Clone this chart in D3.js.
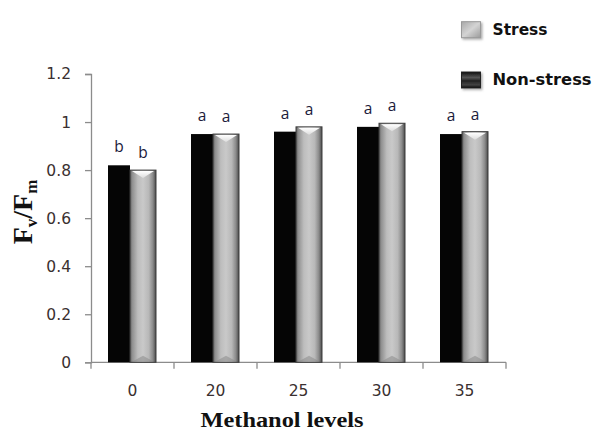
<!DOCTYPE html>
<html>
<head>
<meta charset="utf-8">
<script src="https://cdn.jsdelivr.net/npm/d3@7"></script>
<style>
  html, body { margin: 0; padding: 0; background: #fff; }
  svg { display: block; }
</style>
</head>
<body>
<svg id="chart" width="595" height="432"></svg>
<script>
// ---- data ----
const categories = ["0", "20", "25", "30", "35"];
const seriesNames = ["Non-stress", "Stress"];
const nonStress = [0.82, 0.95, 0.96, 0.98, 0.95];
const stress = [0.80, 0.95, 0.98, 0.995, 0.96];
const nonStressLetters = ["b", "a", "a", "a", "a"];
const stressLetters = ["b", "a", "a", "a", "a"];
const yTicks = [0, 0.2, 0.4, 0.6, 0.8, 1, 1.2];
const yTickLabels = ["0", "0.2", "0.4", "0.6", "0.8", "1", "1.2"];

const svg = d3.select("#chart");
const defs = svg.append("defs");

// gradients
const gBar = defs.append("linearGradient").attr("id", "grayBar").attr("x1", "0").attr("x2", "1").attr("y1", "0").attr("y2", "0");
[[0, "#5a5a5a"], [0.08, "#8e8e8e"], [0.3, "#bdbdbd"], [0.5, "#c9c9c9"], [0.72, "#b8b8b8"], [0.88, "#8a8a8a"], [1, "#4a4a4a"]]
  .forEach(([o, c]) => gBar.append("stop").attr("offset", o).attr("stop-color", c));
const gCap = defs.append("linearGradient").attr("id", "capGrad").attr("x1", "0").attr("x2", "0").attr("y1", "0").attr("y2", "1");
[[0, "#ffffff"], [1, "#dcdcdc"]].forEach(([o, c]) => gCap.append("stop").attr("offset", o).attr("stop-color", c));
const gLegS = defs.append("linearGradient").attr("id", "legStress").attr("x1", "0").attr("x2", "1").attr("y1", "0").attr("y2", "1");
[[0, "#a8a8a8"], [0.5, "#d4d4d4"], [1, "#9a9a9a"]].forEach(([o, c]) => gLegS.append("stop").attr("offset", o).attr("stop-color", c));
const gLegN = defs.append("linearGradient").attr("id", "legNon").attr("x1", "0").attr("x2", "0").attr("y1", "0").attr("y2", "1");
[[0, "#111"], [0.35, "#555"], [0.55, "#222"], [0.8, "#444"], [1, "#0a0a0a"]].forEach(([o, c]) => gLegN.append("stop").attr("offset", o).attr("stop-color", c));
const shadow = defs.append("filter").attr("id", "shadow").attr("x", "-30%").attr("y", "-30%").attr("width", "160%").attr("height", "160%");
shadow.append("feDropShadow").attr("dx", 1.5).attr("dy", 1.5).attr("stdDeviation", 1).attr("flood-color", "#888").attr("flood-opacity", 0.7);

// ---- scales ----
const x = d3.scaleBand().domain(categories).range([91, 506]).paddingInner(0).paddingOuter(0);
const xSub = d3.scaleBand().domain(seriesNames).range([-24.5, 23.5]);
const y = d3.scaleLinear().domain([0, 1.2]).range([362.3, 74]);

// ---- axes ----
const axisColor = "#8c8c8c";
const yAxis = svg.append("g").attr("transform", "translate(91,0)")
  .call(d3.axisLeft(y).tickValues(yTicks).tickFormat((d, i) => yTickLabels[i]).tickSizeOuter(0).tickSize(6).tickPadding(14));
yAxis.selectAll("path, line").attr("stroke", axisColor).attr("stroke-width", 1.3);
yAxis.selectAll("text").attr("font-family", "DejaVu Sans").attr("font-size", 15.5).attr("fill", "#3a3030");

// x axis: ticks at band boundaries
const xAxis = svg.append("g").attr("transform", "translate(0,362.3)");
xAxis.append("line").attr("x1", x.range()[0]).attr("x2", x.range()[1]).attr("stroke", axisColor).attr("stroke-width", 1.3);
const bounds = categories.map(c => x(c)).concat([x(categories[categories.length - 1]) + x.bandwidth()]);
xAxis.selectAll("line.tick").data(bounds).join("line").attr("class", "tick")
  .attr("x1", d => d).attr("x2", d => d).attr("y1", 0).attr("y2", 6.5)
  .attr("stroke", axisColor).attr("stroke-width", 1.3);
xAxis.selectAll("text").data(categories).join("text")
  .attr("x", d => x(d) + x.bandwidth() / 2).attr("y", 23).attr("dy", "0.71em")
  .attr("text-anchor", "middle").attr("font-family", "DejaVu Sans").attr("font-size", 15.5).attr("fill", "#3a3030")
  .text(d => d);

// ---- bars ----
const rows = categories.map((c, i) => ({ c, non: nonStress[i], st: stress[i], nl: nonStressLetters[i], sl: stressLetters[i] }));
const groups = svg.append("g").selectAll("g").data(rows).join("g")
  .attr("transform", d => `translate(${x(d.c) + x.bandwidth() / 2},0)`);

// non-stress (black)
groups.append("rect")
  .attr("x", xSub("Non-stress")).attr("width", xSub.bandwidth() - 2)
  .attr("y", d => y(d.non)).attr("height", d => y(0) - y(d.non))
  .attr("fill", "#050505");

// stress (gray cylinder-like)
const sx = xSub("Stress") - 2, sw = xSub.bandwidth() + 2;
groups.append("rect")
  .attr("x", sx).attr("width", sw)
  .attr("y", d => y(d.st)).attr("height", d => y(0) - y(d.st))
  .attr("fill", "url(#grayBar)").attr("stroke", "#3c3c3c").attr("stroke-width", 1);
// top bevel chevron
groups.append("path")
  .attr("d", d => {
    const t = y(d.st) + 1;
    return `M${sx + 2},${t} L${sx + sw - 2},${t} L${sx + sw / 2},${t + 7} Z`;
  })
  .attr("fill", "url(#capGrad)");
// bottom bevel
groups.append("path")
  .attr("d", d => {
    const b = y(0) - 0.5;
    return `M${sx + 2},${b} L${sx + sw - 2},${b} L${sx + sw / 2},${b - 6} Z`;
  })
  .attr("fill", "#8a8a8a").attr("opacity", 0.55);

// letters
const letterFont = "Open Sans";
groups.append("text")
  .attr("x", xSub("Non-stress") + (xSub.bandwidth() - 2) / 2).attr("y", d => y(d.non) - 13)
  .attr("text-anchor", "middle").attr("font-family", letterFont).attr("font-size", 15.5).attr("fill", "#1a1a3a")
  .text(d => d.nl);
groups.append("text")
  .attr("x", sx + sw / 2).attr("y", d => y(d.st) - 12)
  .attr("text-anchor", "middle").attr("font-family", letterFont).attr("font-size", 15.5).attr("fill", "#1a1a3a")
  .text(d => d.sl);

// ---- legend ----
const legend = svg.append("g");
const legendItems = [
  { name: "Stress", fill: "url(#legStress)", stroke: "#9a9a9a", y: 21.7, width: 55 },
  { name: "Non-stress", fill: "url(#legNon)", stroke: "#222", y: 72, width: 99 }
];
const li = legend.selectAll("g").data(legendItems).join("g").attr("transform", d => `translate(461.5,${d.y})`);
li.append("rect").attr("width", 19).attr("height", 16).attr("fill", d => d.fill).attr("stroke", d => d.stroke).attr("filter", "url(#shadow)");
li.append("text").attr("x", 31).attr("y", 13).attr("font-family", "DejaVu Sans").attr("font-weight", "bold")
  .attr("font-size", 16.5).attr("fill", "#111")
  .attr("textLength", d => d.width).attr("lengthAdjust", "spacingAndGlyphs")
  .text(d => d.name);

// ---- titles ----
svg.append("text")
  .attr("x", 282).attr("y", 427)
  .attr("text-anchor", "middle").attr("font-family", "Liberation Serif").attr("font-weight", "bold")
  .attr("font-size", 21.5).attr("fill", "#111")
  .attr("textLength", 163).attr("lengthAdjust", "spacingAndGlyphs")
  .text("Methanol levels");

const yt = svg.append("text")
  .attr("transform", "translate(32,212) rotate(-90)")
  .attr("text-anchor", "middle").attr("font-family", "Liberation Serif").attr("font-weight", "bold")
  .attr("font-size", 28).attr("fill", "#111");
yt.append("tspan").text("F");
yt.append("tspan").attr("font-size", 17).attr("dy", 5).text("v");
yt.append("tspan").attr("dy", -5).text("/F");
yt.append("tspan").attr("font-size", 17).attr("dy", 5).text("m");
</script>
</body>
</html>
